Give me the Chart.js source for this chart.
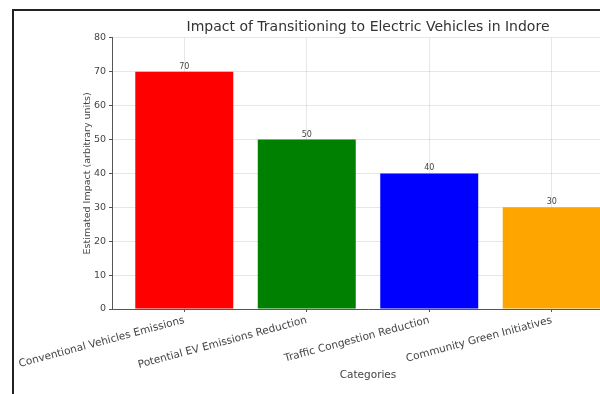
<!DOCTYPE html>
<html>
<head>
<meta charset="utf-8">
<script src="https://cdn.jsdelivr.net/npm/chart.js@4"></script>
<style>
    html, body { margin: 0; padding: 0; background: #fff; overflow: hidden; }
    #wrap { position: relative; width: 600px; height: 394px; overflow: hidden; }
    #frame { position: absolute; left: 12px; top: 9px; width: 700px; height: 500px;
             border-left: 2px solid #222; border-top: 2px solid #222; }
    #chart { position: absolute; left: 0; top: 0; }
</style>
</head>
<body>
<div id="wrap">
    <div id="frame"></div>
    <canvas id="chart" width="640" height="394"></canvas>
</div>
<script>
const CATEGORIES = [
    'Conventional Vehicles Emissions',
    'Potential EV Emissions Reduction',
    'Traffic Congestion Reduction',
    'Community Green Initiatives'
];
const IMPACT = [70, 50, 40, 30];
const COLORS = ['#ff0000', '#008000', '#0000ff', '#ffa500'];
const Y_TICKS = [0, 10, 20, 30, 40, 50, 60, 70, 80];

const FONT = 'DejaVu Sans';

// numbers on top of each bar
const valueLabels = {
    id: 'valueLabels',
    afterLayout(chart) {
        // centre the title over the plot area, not the whole canvas
        if (chart.titleBlock) {
            chart.titleBlock.left = chart.chartArea.left;
            chart.titleBlock.right = chart.chartArea.right;
        }
    },
    afterDatasetsDraw(chart) {
        const ctx = chart.ctx;
        const meta = chart.getDatasetMeta(0);
        ctx.save();
        ctx.font = '8px "' + FONT + '"';
        ctx.fillStyle = '#444';
        ctx.textAlign = 'center';
        ctx.textBaseline = 'bottom';
        meta.data.forEach((bar, i) => {
            ctx.fillText(String(IMPACT[i]), bar.x, bar.y - 1);
        });
        ctx.restore();
    }
};

const data = {
    datasets: [{
        data: IMPACT.map((v, i) => ({x: i, y: v})),
        backgroundColor: COLORS,
        borderWidth: 0,
        barPercentage: 0.8,
        categoryPercentage: 1.0,
    }]
};

const config = {
    type: 'bar',
    data: data,
    options: {
        responsive: false,
        animation: false,
        layout: {
            padding: {left: 78, right: 16, top: 10, bottom: 8}
        },
        plugins: {
            legend: {display: false},
            tooltip: {enabled: false},
            title: {
                display: true,
                text: 'Impact of Transitioning to Electric Vehicles in Indore',
                color: '#333',
                font: {family: FONT, size: 14, weight: 'normal'},
                padding: {top: 9, bottom: 2},
            },
        },
        scales: {
            x: {
                type: 'linear',
                min: -0.59,
                max: 3.59,
                offset: false,
                z: 1,
                afterFit: (scale) => { scale.height = 77; },
                afterBuildTicks: (scale) => {
                    scale.ticks = CATEGORIES.map((c, i) => ({value: i}));
                },
                ticks: {
                    callback: (v) => CATEGORIES[v],
                    minRotation: 15,
                    maxRotation: 15,
                    autoSkip: false,
                    padding: 2,
                    color: '#444',
                    font: {family: FONT, size: 10.5},
                },
                grid: {
                    offset: false,
                    color: 'rgba(170,170,170,0.28)',
                    tickColor: '#555',
                    tickLength: 3,
                },
                border: {color: '#555', width: 1},
                title: {
                    display: true,
                    text: 'Categories',
                    color: '#444',
                    font: {family: FONT, size: 10.5},
                    padding: {top: 4, bottom: 4},
                },
            },
            y: {
                min: 0,
                max: 80,
                z: 1,
                afterFit: (scale) => { scale.width = 34; },
                afterBuildTicks: (scale) => {
                    scale.ticks = Y_TICKS.map(v => ({value: v}));
                },
                ticks: {
                    padding: 3,
                    color: '#444',
                    font: {family: FONT, size: 9.5},
                },
                grid: {
                    color: 'rgba(170,170,170,0.28)',
                    tickColor: '#555',
                    tickLength: 3,
                },
                border: {color: '#555', width: 1},
                title: {
                    display: true,
                    text: 'Estimated Impact (arbitrary units)',
                    color: '#444',
                    font: {family: FONT, size: 9.5},
                    padding: {top: 4, bottom: 4},
                },
            },
        },
    },
    plugins: [valueLabels],
};

new Chart(document.getElementById('chart').getContext('2d'), config);
</script>
</body>
</html>
